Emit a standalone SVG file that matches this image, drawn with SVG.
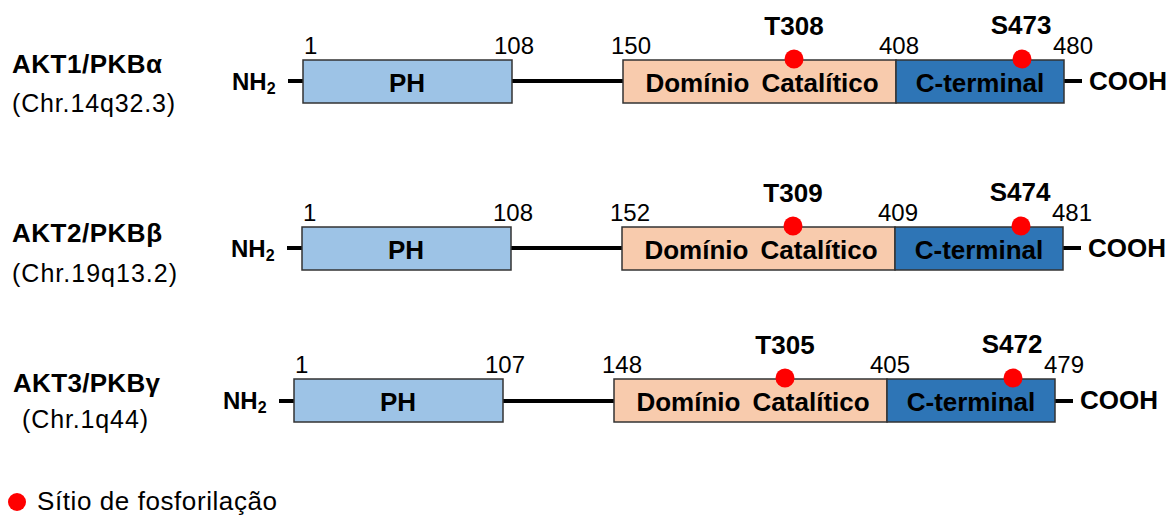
<svg xmlns="http://www.w3.org/2000/svg" width="1170" height="515" viewBox="0 0 1170 515">
<style>
  text { font-family: "Liberation Sans", Arial, sans-serif; fill: #000; }
  .name { font-size: 26px; font-weight: bold; }
  .chr { font-size: 25px; }
  .num { font-size: 24px; }
  .term { font-size: 24px; font-weight: bold; }
  .sub { font-size: 16px; font-weight: bold; }
  .dom { font-size: 26px; font-weight: bold; text-anchor: middle; }
  .site { font-size: 26px; font-weight: bold; text-anchor: middle; }
  .ph { fill: #9DC3E6; stroke: #333; stroke-width: 1.5; }
  .cat { fill: #F8CBAD; stroke: #333; stroke-width: 1.5; }
  .ct { fill: #2E75B6; stroke: #333; stroke-width: 1.5; }
  .dot { fill: #FF0000; }
  .link { stroke: #000; stroke-width: 4; fill: none; }
</style>

<g id="connectors">
  <line class="link" x1="288" y1="81" x2="303" y2="81"/>
  <line class="link" x1="512" y1="81" x2="623" y2="81"/>
  <line class="link" x1="1064" y1="81" x2="1082" y2="81"/>
  <line class="link" x1="287" y1="248" x2="302" y2="248"/>
  <line class="link" x1="511" y1="248" x2="622" y2="248"/>
  <line class="link" x1="1063" y1="248" x2="1081" y2="248"/>
  <line class="link" x1="279" y1="401" x2="294" y2="401"/>
  <line class="link" x1="503" y1="401" x2="614" y2="401"/>
  <line class="link" x1="1055" y1="401" x2="1073" y2="401"/>
</g>

<!-- Row 1 -->
<g id="akt1-label">
  <text class="name" x="12" y="73" textLength="150">AKT1/PKBα</text>
  <text class="chr" x="12" y="112" textLength="163">(Chr.14q32.3)</text>
</g>
<g id="akt1-nterm"><text class="term" x="232" y="90">NH<tspan class="sub" dy="4">2</tspan></text></g>
<g id="akt1-ph">
  <rect class="ph" x="303" y="60" width="209" height="43"/>
  <text class="dom" x="407" y="92">PH</text>
</g>
<g id="akt1-cat">
  <rect class="cat" x="623" y="60" width="273" height="43"/>
  <text class="dom" x="762" y="92" word-spacing="5">Domínio Catalítico</text>
</g>
<g id="akt1-ct">
  <rect class="ct" x="896" y="60" width="168" height="43"/>
  <text class="dom" x="980" y="92">C-terminal</text>
</g>
<g id="akt1-cterm"><text class="term" x="1089" y="90" style="font-size:26px">COOH</text></g>
<g id="akt1-nums">
  <text class="num" x="304" y="54">1</text>
  <text class="num" x="494" y="54">108</text>
  <text class="num" x="611" y="54">150</text>
  <text class="num" x="879" y="54">408</text>
  <text class="num" x="1053" y="54">480</text>
</g>
<g id="akt1-T308">
  <circle class="dot" cx="794" cy="59" r="9.5"/>
  <text class="site" x="794" y="35">T308</text>
</g>
<g id="akt1-S473">
  <circle class="dot" cx="1022" cy="59" r="9.5"/>
  <text class="site" x="1021" y="34">S473</text>
</g>

<!-- Row 2 -->
<g id="akt2-label">
  <text class="name" x="12" y="242" textLength="150">AKT2/PKBβ</text>
  <text class="chr" x="12" y="282" textLength="165">(Chr.19q13.2)</text>
</g>
<g id="akt2-nterm"><text class="term" x="231" y="257">NH<tspan class="sub" dy="4">2</tspan></text></g>
<g id="akt2-ph">
  <rect class="ph" x="302" y="227" width="209" height="43"/>
  <text class="dom" x="406" y="259">PH</text>
</g>
<g id="akt2-cat">
  <rect class="cat" x="622" y="227" width="273" height="43"/>
  <text class="dom" x="761" y="259" word-spacing="5">Domínio Catalítico</text>
</g>
<g id="akt2-ct">
  <rect class="ct" x="895" y="227" width="168" height="43"/>
  <text class="dom" x="979" y="259">C-terminal</text>
</g>
<g id="akt2-cterm"><text class="term" x="1088" y="257" style="font-size:26px">COOH</text></g>
<g id="akt2-nums">
  <text class="num" x="303" y="221">1</text>
  <text class="num" x="493" y="221">108</text>
  <text class="num" x="610" y="221">152</text>
  <text class="num" x="878" y="221">409</text>
  <text class="num" x="1052" y="221">481</text>
</g>
<g id="akt2-T309">
  <circle class="dot" cx="793" cy="226" r="9.5"/>
  <text class="site" x="793" y="202">T309</text>
</g>
<g id="akt2-S474">
  <circle class="dot" cx="1021" cy="226" r="9.5"/>
  <text class="site" x="1020" y="201">S474</text>
</g>

<!-- Row 3 -->
<g id="akt3-label">
  <text class="name" x="13" y="392" textLength="147">AKT3/PKBγ</text>
  <text class="chr" x="22" y="428" textLength="126">(Chr.1q44)</text>
</g>
<g id="akt3-nterm"><text class="term" x="223" y="409">NH<tspan class="sub" dy="4">2</tspan></text></g>
<g id="akt3-ph">
  <rect class="ph" x="294" y="379" width="209" height="43"/>
  <text class="dom" x="398" y="411">PH</text>
</g>
<g id="akt3-cat">
  <rect class="cat" x="614" y="379" width="273" height="43"/>
  <text class="dom" x="753" y="411" word-spacing="5">Domínio Catalítico</text>
</g>
<g id="akt3-ct">
  <rect class="ct" x="887" y="379" width="168" height="43"/>
  <text class="dom" x="971" y="411">C-terminal</text>
</g>
<g id="akt3-cterm"><text class="term" x="1080" y="409" style="font-size:26px">COOH</text></g>
<g id="akt3-nums">
  <text class="num" x="295" y="373">1</text>
  <text class="num" x="485" y="373">107</text>
  <text class="num" x="602" y="373">148</text>
  <text class="num" x="870" y="373">405</text>
  <text class="num" x="1044" y="373">479</text>
</g>
<g id="akt3-T305">
  <circle class="dot" cx="785" cy="378" r="9.5"/>
  <text class="site" x="785" y="354">T305</text>
</g>
<g id="akt3-S472">
  <circle class="dot" cx="1013" cy="378" r="9.5"/>
  <text class="site" x="1012" y="353">S472</text>
</g>

<!-- Legend -->
<g id="legend">
  <circle class="dot" cx="17" cy="502" r="9"/>
  <text x="37" y="510" style="font-size:26px" textLength="240">Sítio de fosforilação</text>
</g>
</svg>
